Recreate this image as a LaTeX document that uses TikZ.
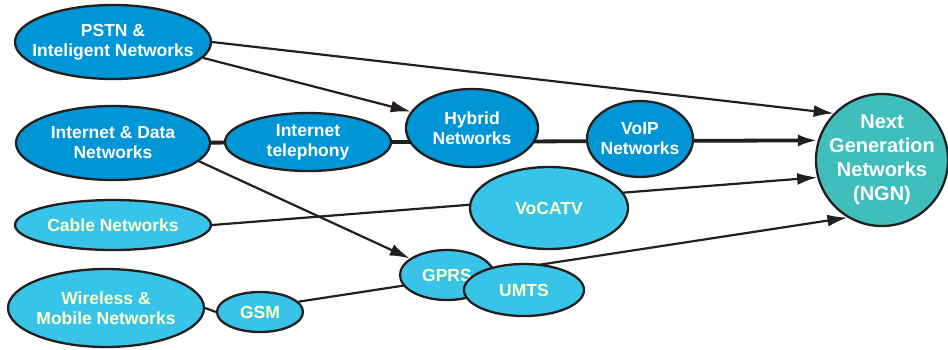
\documentclass[tikz,border=0pt]{standalone}
\usepackage{fontspec}
\setmainfont{Liberation Sans}
\usetikzlibrary{shapes.geometric,arrows.meta,backgrounds}
\definecolor{darkfill}{RGB}{0,150,214}
\definecolor{lightfill}{RGB}{56,196,232}
\definecolor{ngnfill}{RGB}{64,190,188}
\definecolor{paletext}{RGB}{255,255,204}
\definecolor{ink}{RGB}{35,31,32}
\tikzset{
  netnode/.style={ellipse, draw=ink, line width=2.3pt, inner sep=-60pt, align=center,
    font=\bfseries\fontsize{17.5}{20}\selectfont},
  darknode/.style={netnode, fill=darkfill, text=white},
  lightnode/.style={netnode, fill=lightfill, text=paletext},
  link/.style={draw=ink, line width=2.2pt},
  thicklink/.style={draw=ink, line width=3.8pt},
  arr/.style={-{Latex[length=20pt,width=12pt]}},
}
\begin{document}
\begin{tikzpicture}[x=1pt,y=-1pt]
\useasboundingbox (0,0) rectangle (948,349);
\node[darknode, minimum width=196pt, minimum height=74pt] (pstn) at (113,42) {PSTN \&\\Inteligent Networks};
\node[darknode, minimum width=194pt, minimum height=74pt] (idn) at (113,143) {Internet \& Data\\Networks};
\node[darknode, minimum width=166pt, minimum height=58pt] (tel) at (308,142) {Internet\\telephony};
\node[darknode, minimum width=132pt, minimum height=78pt] (hyb) at (472,128) {Hybrid\\Networks};
\node[darknode, minimum width=106pt, minimum height=76pt] (voip) at (640,139) {VoIP\\Networks};
\node[lightnode, minimum width=158pt, minimum height=82pt] (vocatv) at (549,208) {VoCATV};
\node[netnode, circle, fill=ngnfill, text=white, minimum size=132pt,
  font=\bfseries\fontsize{20}{24}\selectfont] (ngn) at (882,160) {Next\\Generation\\Networks\\(NGN)};
\node[lightnode, minimum width=196pt, minimum height=50pt] (cable) at (113,225) {Cable Networks};
\node[lightnode, minimum width=196pt, minimum height=78pt] (wire) at (106,308) {Wireless \&\\Mobile Networks};
\node[lightnode, minimum width=86pt, minimum height=40pt] (gsm) at (260,312) {GSM};
\node[lightnode, minimum width=94pt, minimum height=50pt] (gprs) at (447,275) {GPRS};
\node[lightnode, minimum width=120pt, minimum height=52pt] (umts) at (524,290) {UMTS};
\begin{scope}[on background layer]
  \draw[link, arr] (pstn.0) -- (ngn.136);
  \draw[link, arr] (pstn.-10) -- (hyb.165);
  \draw[thicklink, arr] (idn) -- (ngn.163.5);
  \draw[link, arr] (idn.-12) -- (gprs.156);
  \draw[link, arr] (cable.east) -- (ngn.195);
  \draw[link] (wire.east) -- (gsm.west);
  \draw[link, arr] (gsm.15) -- (ngn.-121);
\end{scope}
\end{tikzpicture}
\end{document}
